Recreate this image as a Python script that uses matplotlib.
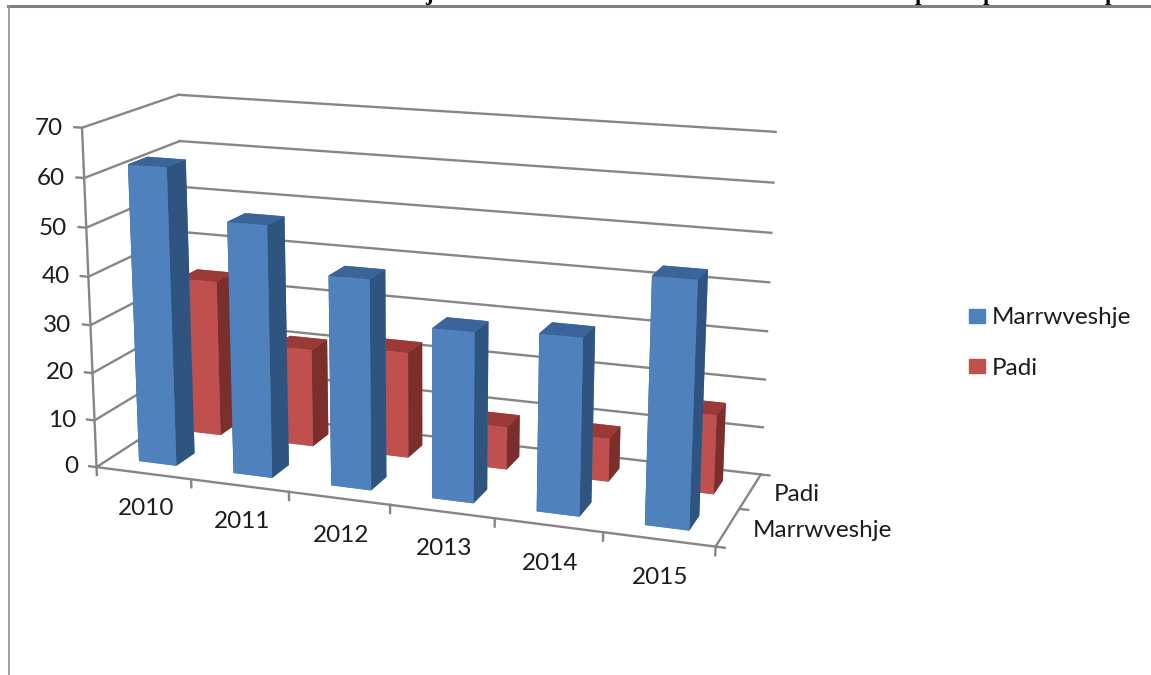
import matplotlib
matplotlib.use("Agg")
import matplotlib.pyplot as plt
from matplotlib.lines import Line2D
from matplotlib.patches import Patch
from mpl_toolkits.mplot3d import proj3d

years = ['2010', '2011', '2012', '2013', '2014', '2015']
series = ['Marrwveshje', 'Padi']
marrveshje = [62, 52, 43, 34.5, 35.5, 48.5]
padi = [33.7, 21, 22.5, 9, 9, 16.3]
zticks = [0, 10, 20, 30, 40, 50, 60, 70]

plt.rcParams['font.family'] = ['Lato', 'DejaVu Sans']
FS = 17.5
GRAY = '#868686'
TXT = '#1c1c1c'

W, H = 1151, 675
fig = plt.figure(figsize=(W / 100, H / 100), dpi=100, facecolor='white')

# frame and the clipped title line above the chart
fig.add_artist(Line2D([8 / W, 1], [1 - 6 / H, 1 - 6 / H], color='#808080', lw=2.2))
fig.add_artist(Line2D([8.5 / W, 8.5 / W], [0, 1 - 6 / H], color='#909090', lw=1.2))
for cx, ch in [(429, 'j'), (921, 'p'), (989, 'p'), (1111, 'p')]:
    fig.text(cx / W, 1.0, ch, family='Liberation Serif', weight='bold', fontsize=16.5,
             ha='center', va='baseline', color='black')

S = 1150
ax = fig.add_axes([(-124.5 - 39) / W, (-219.5) / H, S / W, S / H], projection='3d')
ax.set_axis_off()
ax.patch.set_visible(False)
ax.computed_zorder = False
ax.set_box_aspect((642, 210, 351), zoom=0.646)
ax.view_init(elev=15, azim=-70)
ax.set_proj_type('persp', focal_length=0.34)
ax.set_xlim(0, 6, view_margin=0)
ax.set_ylim(0, 2, view_margin=0)
ax.set_zlim(0, 70, view_margin=0)


def label(x, y, z, s, **kw):
    # tick text goes in the 2d plane at the projected point
    px, py, _ = proj3d.proj_transform(x, y, z, ax.get_proj())
    fig.text(px, py, s, transform=ax.transData, fontsize=FS, color=TXT, va='center', **kw)


n = len(years)
lw = 1.7
# walls: gridlines on the left and back
for v in zticks:
    ax.plot([-0.08, 0, 0], [0, 0, 2], [v, v, v], color=GRAY, lw=lw, zorder=1)
    ax.plot([0, n], [2, 2], [v, v], color=GRAY, lw=lw, zorder=1)
    label(-0.2, 0, v - 0.4, str(v), ha='right')
ax.plot([n, n + 0.08], [2, 2], [0, 0], color=GRAY, lw=lw, zorder=1)
ax.plot([0, 0], [0, 0], [0, zticks[-1]], color=GRAY, lw=lw, zorder=1)

# floor front and right edges with their ticks
ax.plot([0, n], [0, 0], [0, 0], color=GRAY, lw=lw, zorder=1)
ax.plot([n, n], [0, 2], [0, 0], color=GRAY, lw=lw, zorder=1)
for i in range(n + 1):
    ax.plot([i, i], [0, 0], [0, -1.7], color=GRAY, lw=lw, zorder=1)
for j in range(2):
    ax.plot([n, n + 0.08], [j, j], [0, 0], color=GRAY, lw=lw, zorder=1)
for i, y in enumerate(years):
    label(i + 0.52, 0, -7.6, y, ha='center')
for j, s in enumerate(series):
    label(n + 0.22, j + 0.5, 0, s, ha='left')

# bars, faces are -z +z -y +y -x +x
bw = 0.4
blue = ['#4F81BD', '#3B659A', '#4F81BD', '#4F81BD', '#2F5480', '#2F5480']
red = ['#C0504D', '#9A3A37', '#C0504D', '#C0504D', '#7B2F2D', '#7B2F2D']
for row, (vals, cols) in enumerate([(padi, red), (marrveshje, blue)]):
    yy = 1.5 - row
    for i, v in enumerate(vals):
        ax.bar3d(i + 0.5 - bw / 2, yy - bw / 2, 0, bw, bw, v, color=cols, shade=False,
                 zorder=5 + row * 10 + i)

handles = [Patch(color='#4F81BD'), Patch(color='#C0504D')]
fig.legend(handles, series, loc='center left', bbox_to_anchor=(947 / W, 1 - 343 / H),
           frameon=False, fontsize=FS, labelspacing=1.2, handlelength=0.65,
           handleheight=0.5, handletextpad=0.3, labelcolor=TXT)

fig.savefig('out.png', dpi=100)
